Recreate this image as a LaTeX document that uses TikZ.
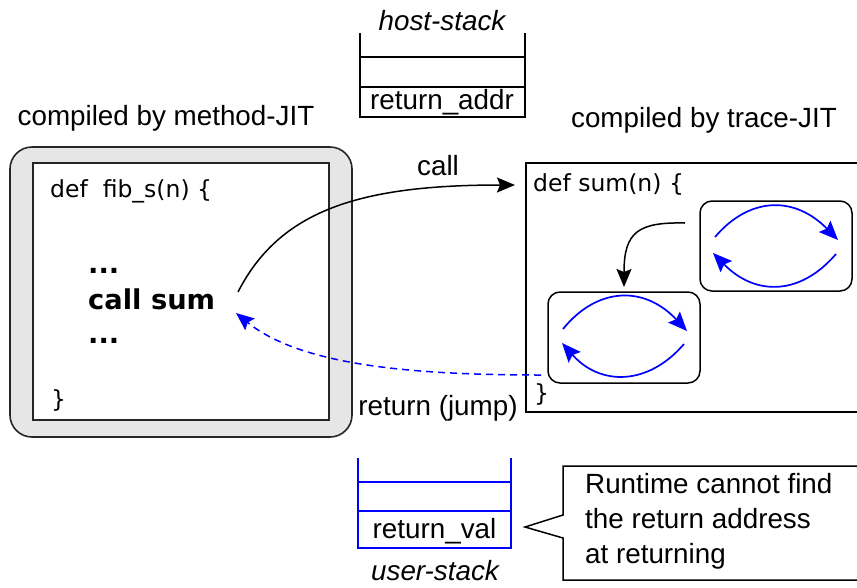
\documentclass[tikz,border=0pt]{standalone}
\usepackage{fontspec}
\setmainfont{Liberation Sans}
\newfontfamily\codefont{DejaVu Sans}
\usetikzlibrary{arrows.meta}
\definecolor{boxgray}{HTML}{E6E6E6}
\begin{document}
\begin{tikzpicture}[x=1pt,y=-1pt,
  lbl/.style={inner sep=0pt, anchor=base, font=\fontsize{27.8}{32}\selectfont},
  ilbl/.style={lbl, font=\fontsize{27.8}{32}\selectfont\itshape},
  lblw/.style={inner sep=0pt, anchor=base west, font=\fontsize{27.8}{32}\selectfont},
  code/.style={inner sep=0pt, anchor=base west, font=\codefont\fontsize{23.5}{28}\selectfont},
  boldcode/.style={inner sep=0pt, anchor=base west, font=\codefont\bfseries\fontsize{27.3}{32}\selectfont},
  hoststk/.style={line width=2.4pt, black},
  userstk/.style={line width=2.4pt, blue},
  frame/.style={line width=1.5pt, black},
  loopbox/.style={line width=1.5pt, black, rounded corners=12pt},
  looparrow/.style={blue, line width=1.7pt, -{Stealth[length=19pt,width=16pt,inset=3pt]}},
  callarrow/.style={black, line width=1.5pt, -{Stealth[length=18pt,width=15pt,inset=3pt]}},
  retarrow/.style={blue, line width=1.5pt, dashed, dash pattern=on 7pt off 5pt, -{Stealth[length=18pt,width=15pt,inset=3pt]}}
]
\useasboundingbox (0,0) rectangle (857,587);

% method-JIT box
\draw[fill=boxgray, draw=black!85, line width=1.6pt, rounded corners=22pt] (10,147) rectangle (352,437);
\draw[fill=white, draw=black!85, line width=1.6pt] (33,163) rectangle (329,420);
\node[lbl] (mlabel) at (166,125) {compiled by method-JIT};
\node[code] (fibdef) at (50,197) {def\ \ fib\_s(n) \{};
\node[boldcode] (dots1) at (88,273) {...};
\node[boldcode] (callsum) at (88,309) {call sum};
\node[boldcode] (dots2) at (88,343) {...};
\node[code] (fibend) at (51,407) {\}};

% host stack
\node[ilbl] (hostlabel) at (442,30) {host-stack};
\draw[hoststk] (360,33) -- (360,117) -- (525,117) -- (525,33);
\draw[hoststk] (360,57) -- (525,57);
\draw[hoststk] (360,87) -- (525,87);
\node[lbl] (retaddr) at (442,109) {return\_addr};

% trace-JIT box
\node[lbl] (tlabel) at (704,127) {compiled by trace-JIT};
\draw[frame] (526,163) rectangle (880,412);
\node[code] (sumdef) at (533,191) {def sum(n) \{};
\node[code] (sumend) at (534,401) {\}};

% loop boxes
\draw[loopbox] (700,201) rectangle (852,291);
\draw[loopbox] (548,292) rectangle (700,383);
\coordinate (ua) at (715,237);
\coordinate (ub) at (838,240);
\coordinate (uc) at (836,254);
\coordinate (ud) at (713,253);
\draw[looparrow] (ua) .. controls (750,196) and (795,196) .. (ub);
\draw[looparrow] (uc) .. controls (800,296) and (755,296) .. (ud);
\coordinate (la) at (563,329);
\coordinate (lb) at (687,331);
\coordinate (lc) at (684,344);
\coordinate (ld) at (562,343);
\draw[looparrow] (la) .. controls (598,286) and (645,286) .. (lb);
\draw[looparrow] (lc) .. controls (648,386) and (600,386) .. (ld);

% transfer between traces
\coordinate (ts) at (685,223);
\coordinate (te) at (624,287);
\draw[callarrow] (ts) .. controls (638,222) and (624,232) .. (te);

% call arrow
\coordinate (cs) at (238,292);
\coordinate (ce) at (515,185);
\draw[callarrow] (cs) .. controls (280,210) and (360,185) .. (ce);
\node[lbl] (calllbl) at (438,175) {call};

% return arrow
\coordinate (rs) at (541,375);
\coordinate (re) at (236,313);
\draw[retarrow] (rs) .. controls (410,375) and (300,365) .. (re);
\node[lbl] (retlbl) at (438,415) {return (jump)};

% user stack
\draw[userstk] (358,458) -- (358,548) -- (511,548) -- (511,458);
\draw[userstk] (358,482) -- (511,482);
\draw[userstk] (358,511) -- (511,511);
\node[lbl] (retval) at (434.5,538) {return\_val};
\node[ilbl] (userlabel) at (435,580) {user-stack};

% callout
\draw[frame, fill=white] (563,466) -- (880,466) -- (880,580) -- (563,580) -- (563,538) -- (525,527) -- (563,515) -- cycle;
\node[lblw] (c1) at (585,493) {Runtime cannot find};
\node[lblw] (c2) at (585,528) {the return address};
\node[lblw] (c3) at (585,563) {at returning};
\end{tikzpicture}
\end{document}
